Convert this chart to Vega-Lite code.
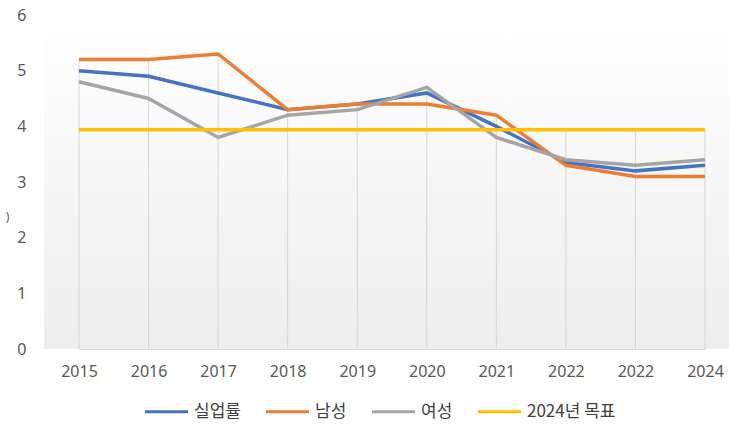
{
  "$schema": "https://vega.github.io/schema/vega-lite/v6.json",
  "width": 685,
  "height": 334,
  "autosize": {"type": "none"},
  "padding": {"left": 44, "top": 15, "right": 0, "bottom": 79},
  "background": "white",
  "config": {"view": {"stroke": null}, "font": "Noto Sans"},
  "data": {"values": [
    {"year": "2015", "series": "실업률", "value": 5.0},
    {"year": "2016", "series": "실업률", "value": 4.9},
    {"year": "2017", "series": "실업률", "value": 4.6},
    {"year": "2018", "series": "실업률", "value": 4.3},
    {"year": "2019", "series": "실업률", "value": 4.4},
    {"year": "2020", "series": "실업률", "value": 4.6},
    {"year": "2021", "series": "실업률", "value": 4.0},
    {"year": "2022", "series": "실업률", "value": 3.35},
    {"year": "2022 ", "series": "실업률", "value": 3.2},
    {"year": "2024", "series": "실업률", "value": 3.3},
    {"year": "2015", "series": "남성", "value": 5.2},
    {"year": "2016", "series": "남성", "value": 5.2},
    {"year": "2017", "series": "남성", "value": 5.3},
    {"year": "2018", "series": "남성", "value": 4.3},
    {"year": "2019", "series": "남성", "value": 4.4},
    {"year": "2020", "series": "남성", "value": 4.4},
    {"year": "2021", "series": "남성", "value": 4.2},
    {"year": "2022", "series": "남성", "value": 3.3},
    {"year": "2022 ", "series": "남성", "value": 3.1},
    {"year": "2024", "series": "남성", "value": 3.1},
    {"year": "2015", "series": "여성", "value": 4.8},
    {"year": "2016", "series": "여성", "value": 4.5},
    {"year": "2017", "series": "여성", "value": 3.8},
    {"year": "2018", "series": "여성", "value": 4.2},
    {"year": "2019", "series": "여성", "value": 4.3},
    {"year": "2020", "series": "여성", "value": 4.7},
    {"year": "2021", "series": "여성", "value": 3.8},
    {"year": "2022", "series": "여성", "value": 3.4},
    {"year": "2022 ", "series": "여성", "value": 3.3},
    {"year": "2024", "series": "여성", "value": 3.4},
    {"year": "2015", "series": "2024년 목표", "value": 3.94},
    {"year": "2016", "series": "2024년 목표", "value": 3.94},
    {"year": "2017", "series": "2024년 목표", "value": 3.94},
    {"year": "2018", "series": "2024년 목표", "value": 3.94},
    {"year": "2019", "series": "2024년 목표", "value": 3.94},
    {"year": "2020", "series": "2024년 목표", "value": 3.94},
    {"year": "2021", "series": "2024년 목표", "value": 3.94},
    {"year": "2022", "series": "2024년 목표", "value": 3.94},
    {"year": "2022 ", "series": "2024년 목표", "value": 3.94},
    {"year": "2024", "series": "2024년 목표", "value": 3.94}
  ]},
  "layer": [
    {
      "data": {"values": [{"lo": 0, "hi": 6}]},
      "mark": {
        "type": "rect",
        "fill": {
          "gradient": "linear", "x1": 0, "y1": 0, "x2": 0, "y2": 1,
          "stops": [{"offset": 0, "color": "#ffffff"}, {"offset": 1, "color": "#eeeeee"}]
        }
      },
      "encoding": {
        "y": {"field": "lo", "type": "quantitative", "scale": {"domain": [0, 6], "nice": false}},
        "y2": {"field": "hi"}
      }
    },
    {
      "mark": {"type": "rule", "color": "#d6d6d6", "strokeWidth": 1},
      "encoding": {
        "x": {"field": "year", "type": "ordinal", "sort": null},
        "y": {"aggregate": "max", "field": "value", "type": "quantitative"},
        "y2": {"datum": 0}
      }
    },
    {
      "mark": {"type": "line", "strokeWidth": 3.5},
      "encoding": {
        "x": {
          "field": "year", "type": "ordinal", "sort": null,
          "scale": {"type": "point", "padding": 0, "range": [35, 661]},
          "axis": {
            "title": null, "labelAngle": 0, "labelAlign": "center", "labelExpr": "trim(datum.label)",
            "domainColor": "#d9d9d9", "ticks": false, "grid": false,
            "labelFontSize": 16, "labelColor": "#595959", "labelPadding": 22
          }
        },
        "y": {
          "field": "value", "type": "quantitative",
          "scale": {"domain": [0, 6], "nice": false},
          "axis": {
            "values": [0, 1, 2, 3, 4, 5, 6], "format": "d", "domain": false, "ticks": false, "grid": false,
            "labelFontSize": 16, "labelColor": "#595959", "labelPadding": 18,
            "title": ")", "titleAngle": 0, "titleX": -37, "titleY": 208,
            "titleFontSize": 12, "titleFontWeight": "normal", "titleColor": "#595959"
          }
        },
        "color": {
          "field": "series", "type": "nominal",
          "scale": {
            "domain": ["실업률", "남성", "여성", "2024년 목표"],
            "range": ["#4472C4", "#ED7D31", "#A5A5A5", "#FFC000"]
          },
          "legend": {
            "title": null, "orient": "none", "direction": "horizontal",
            "legendX": 99, "legendY": 373,
            "symbolType": "stroke", "symbolStrokeWidth": 3, "symbolSize": 1850,
            "labelFont": "Noto Sans CJK KR", "labelFontSize": 17, "labelColor": "#404040",
            "labelOffset": 4, "columnPadding": 18
          }
        },
        "order": {"value": 0}
      }
    }
  ]
}
